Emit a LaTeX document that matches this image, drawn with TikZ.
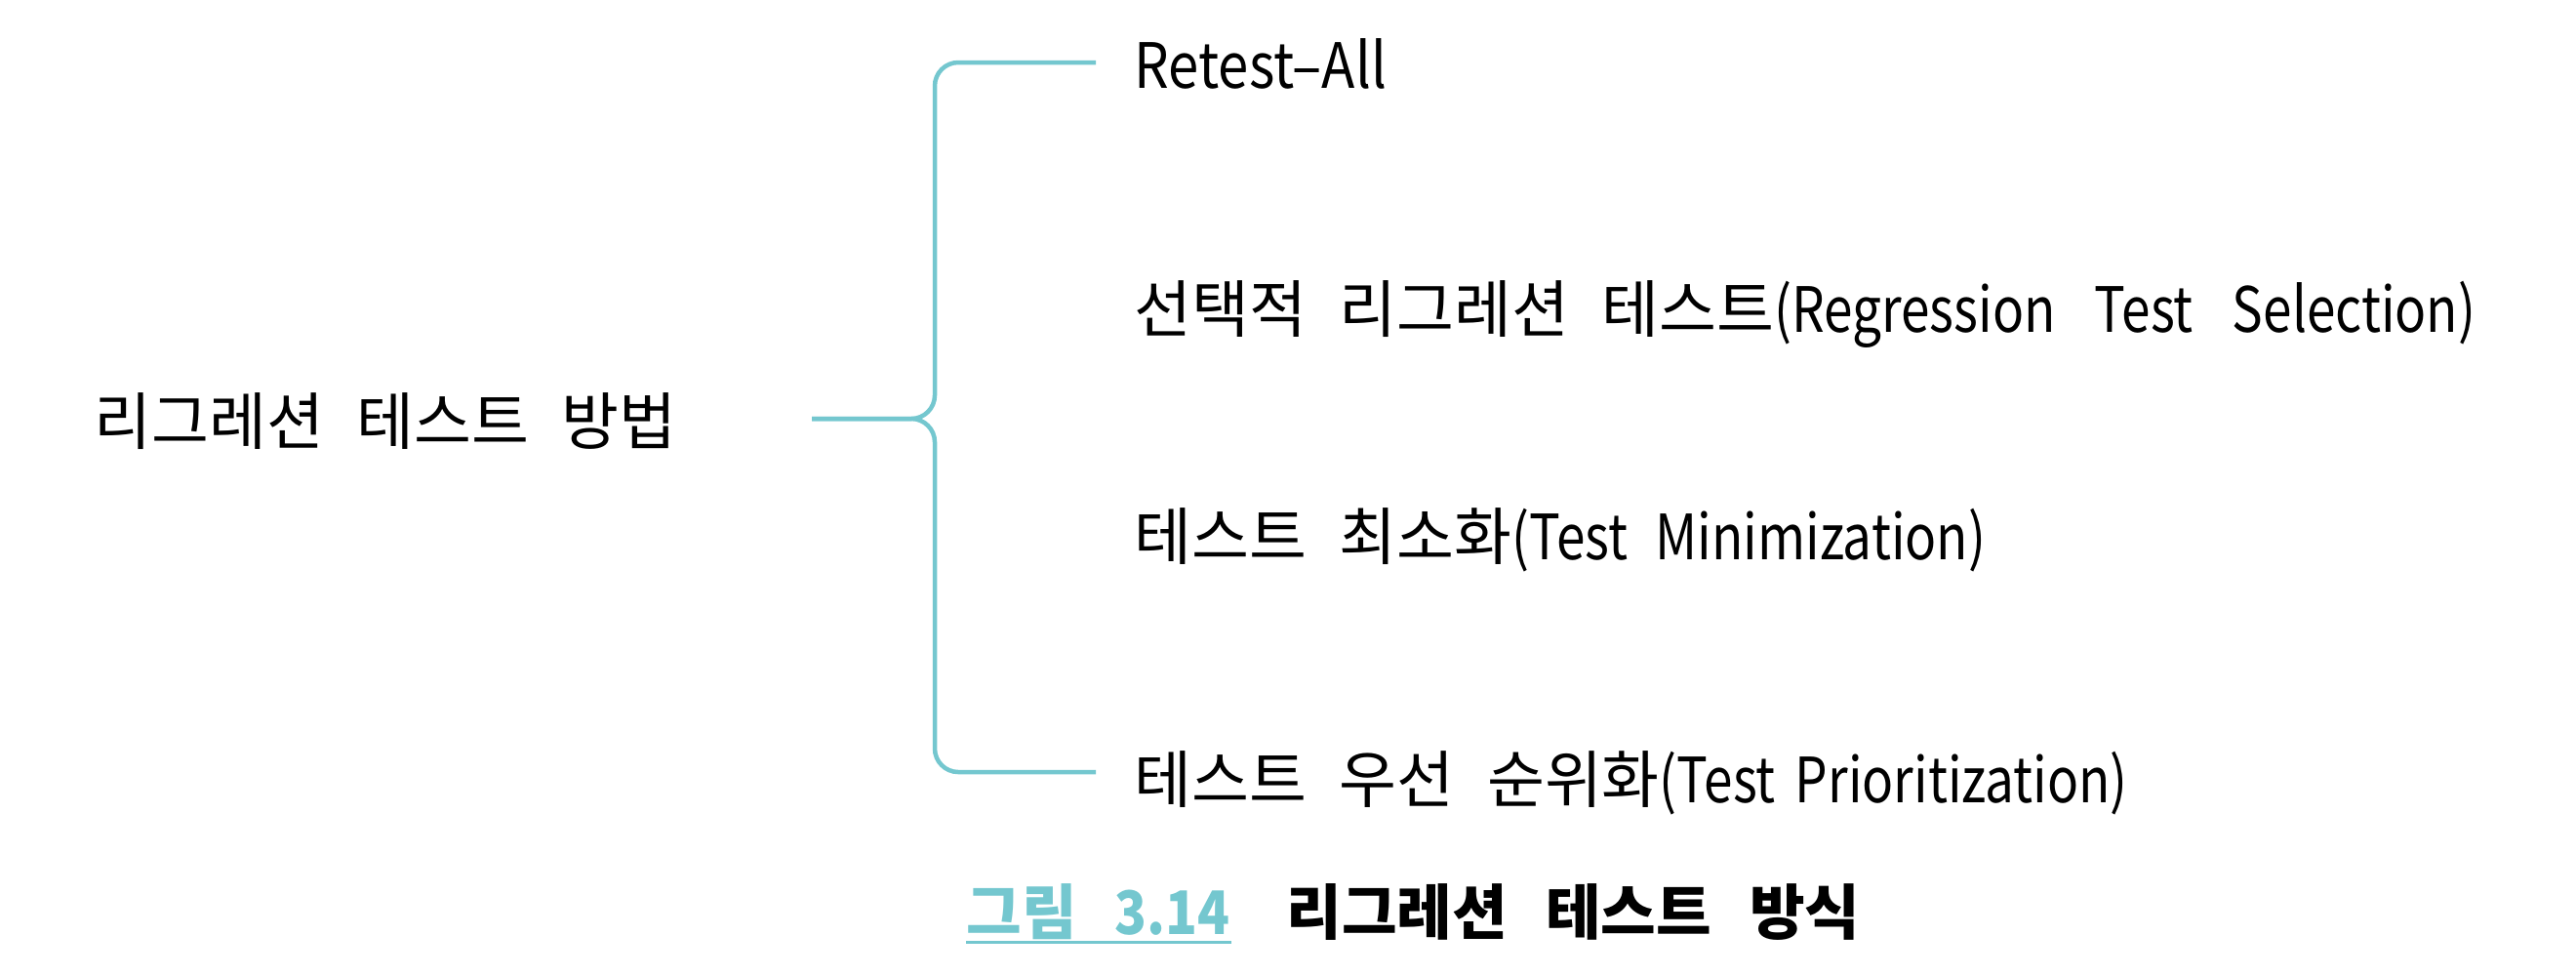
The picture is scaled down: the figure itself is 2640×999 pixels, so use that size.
\documentclass[tikz,border=0pt]{standalone}
\usepackage{fontspec}
\setmainfont{Noto Sans CJK KR}
\newfontfamily\lat[FakeStretch=0.83]{Noto Sans CJK KR}
\newfontfamily\latA[FakeStretch=0.88]{Noto Sans CJK KR}
\definecolor{tealline}{HTML}{74C7CF}
\newcommand{\wsp}[1]{\spaceskip=#1\relax}
\begin{document}
\begin{tikzpicture}[x=0.01cm,y=-0.01cm,
  brace/.style={draw=tealline, line width=0.045cm, rounded corners=0.24cm},
  lbl/.style={anchor=base west, inner sep=0pt, font=\fontsize{18.2}{20}\selectfont\wsp{0.335cm}},
  captext/.style={anchor=base west, inner sep=0pt, font=\bfseries\fontsize{17.5}{20}\selectfont\wsp{0.39cm}}]
\useasboundingbox (0,0) rectangle (2640,999);
\fill[white] (0,0) rectangle (2640,999);
% nodes
\node[lbl] (root) at (96,455) {리그레션 테스트 방법};
\node[lbl] (n1) at (1162,90) {\latA Retest–All};
\node[lbl] (n2) at (1162,340) {선택적 리그레션 테스트{\lat\wsp{0.40cm}(Regression Test Selection)}};
\node[lbl] (n3) at (1162,573) {테스트 최소화{\lat\wsp{0.28cm}(Test Minimization)}};
\node[lbl] (n4) at (1162,822) {테스트 우선 순위화{\lat\wsp{0.20cm}(Test Prioritization)}};
% connector ends
\coordinate (j) at (832,429);
\coordinate (e1) at (1123,64);
\coordinate (e4) at (1123,791);
\draw[brace] (e1) -- (958,64) -- (958,429) -- (j);
\draw[brace] (e4) -- (958,791) -- (958,429) -- (j);
% caption
\node[captext, text=tealline] (figno) at (990,957) {그림 {\latA\bfseries\wsp{0.12cm}3.14}};
\draw[tealline, line width=0.035cm] ([yshift=-0.085cm]figno.base west) -- ([yshift=-0.085cm]figno.base east);
\node[captext] (figtitle) at (1318,957) {리그레션 테스트 방식};
\end{tikzpicture}
\end{document}
